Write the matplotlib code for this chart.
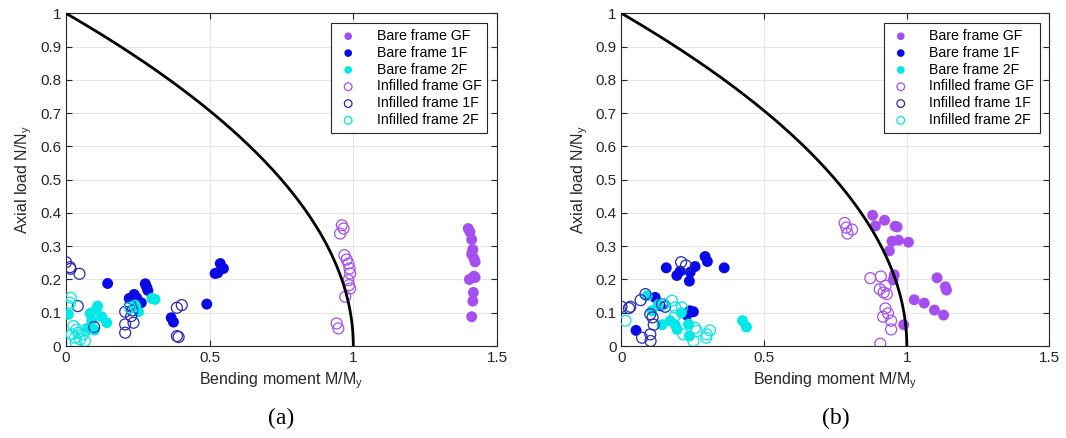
import matplotlib
matplotlib.use("Agg")
import matplotlib.pyplot as plt
import numpy as np

plt.rcParams['font.family'] = ['Liberation Sans', 'DejaVu Sans']

# ---- panel (a) data: (M/My, N/Ny) ----
a_bare_gf_m = [1.40, 1.406, 1.412, 1.416, 1.412, 1.42, 1.424, 1.42, 1.404, 1.424, 1.418, 1.416, 1.412]
a_bare_gf_n = [0.353, 0.343, 0.32, 0.29, 0.276, 0.263, 0.253, 0.21, 0.20, 0.206, 0.161, 0.135, 0.088]
a_bare_1f_m = [0.145, 0.22, 0.237, 0.246, 0.262, 0.276, 0.281, 0.285, 0.366, 0.374, 0.49, 0.519, 0.537, 0.548, 0.528]
a_bare_1f_n = [0.188, 0.143, 0.155, 0.145, 0.13, 0.187, 0.177, 0.167, 0.085, 0.072, 0.126, 0.218, 0.248, 0.233, 0.22]
a_bare_2f_m = [0.008, 0.11, 0.084, 0.124, 0.142, 0.09, 0.099, 0.078, 0.252, 0.299, 0.31, 0.24, 0.105]
a_bare_2f_n = [0.095, 0.12, 0.098, 0.088, 0.07, 0.078, 0.048, 0.053, 0.103, 0.143, 0.14, 0.123, 0.11]
a_inf_gf_m = [0.96, 0.966, 0.954, 0.969, 0.977, 0.983, 0.987, 0.989, 0.983, 0.985, 0.989, 0.972, 0.942, 0.948]
a_inf_gf_n = [0.363, 0.353, 0.338, 0.273, 0.26, 0.248, 0.233, 0.218, 0.198, 0.183, 0.173, 0.148, 0.068, 0.053]
a_inf_1f_m = [0.0, 0.014, 0.016, 0.047, 0.041, 0.098, 0.206, 0.224, 0.227, 0.235, 0.206, 0.206, 0.231, 0.386, 0.403, 0.386, 0.392]
a_inf_1f_n = [0.252, 0.237, 0.232, 0.217, 0.12, 0.057, 0.103, 0.123, 0.09, 0.07, 0.065, 0.04, 0.107, 0.115, 0.123, 0.03, 0.027]
a_inf_2f_m = [0.017, 0.014, 0.008, 0.026, 0.037, 0.02, 0.031, 0.049, 0.066, 0.06, 0.043, 0.072, 0.034, 0.223, 0.24]
a_inf_2f_n = [0.145, 0.13, 0.12, 0.06, 0.05, 0.035, 0.025, 0.02, 0.015, 0.035, 0.04, 0.05, 0.01, 0.115, 0.12]

# ---- panel (b) data ----
b_bare_gf_m = [0.88, 0.922, 0.89, 0.959, 0.966, 0.948, 0.971, 1.006, 0.939, 0.956, 0.952, 0.989,
               1.026, 1.061, 1.097, 1.129, 1.106, 1.135, 1.139]
b_bare_gf_n = [0.393, 0.378, 0.361, 0.36, 0.358, 0.315, 0.318, 0.312, 0.286, 0.214, 0.199, 0.064,
               0.139, 0.129, 0.108, 0.093, 0.205, 0.178, 0.168]
b_bare_1f_m = [0.157, 0.206, 0.194, 0.241, 0.258, 0.238, 0.293, 0.301, 0.36, 0.051, 0.118, 0.136,
               0.24, 0.252, 0.229]
b_bare_1f_n = [0.235, 0.225, 0.212, 0.222, 0.239, 0.195, 0.269, 0.254, 0.235, 0.047, 0.146, 0.121,
               0.106, 0.103, 0.093]
b_bare_2f_m = [0.09, 0.107, 0.142, 0.171, 0.188, 0.195, 0.235, 0.238, 0.424, 0.438, 0.13, 0.21]
b_bare_2f_n = [0.151, 0.106, 0.064, 0.076, 0.064, 0.05, 0.066, 0.03, 0.076, 0.057, 0.125, 0.1]
b_inf_gf_m = [0.782, 0.788, 0.808, 0.792, 0.872, 0.909, 0.925, 0.905, 0.919, 0.93, 0.925, 0.917,
              0.934, 0.945, 0.945, 0.907]
b_inf_gf_n = [0.37, 0.356, 0.35, 0.338, 0.204, 0.209, 0.181, 0.171, 0.161, 0.156, 0.113, 0.088,
              0.098, 0.076, 0.05, 0.007]
b_inf_1f_m = [0.0, 0.026, 0.031, 0.084, 0.067, 0.101, 0.109, 0.113, 0.101, 0.102, 0.072, 0.209,
              0.226, 0.142, 0.153]
b_inf_1f_n = [0.118, 0.114, 0.118, 0.156, 0.138, 0.096, 0.086, 0.064, 0.035, 0.015, 0.025, 0.252,
              0.242, 0.126, 0.118]
b_inf_2f_m = [0.014, 0.177, 0.188, 0.212, 0.188, 0.217, 0.252, 0.258, 0.264, 0.299, 0.31, 0.297, 0.148]
b_inf_2f_n = [0.076, 0.136, 0.116, 0.116, 0.091, 0.035, 0.015, 0.055, 0.045, 0.035, 0.047, 0.025, 0.126]

labels = ["Bare frame GF", "Bare frame 1F", "Bare frame 2F",
          "Infilled frame GF", "Infilled frame 1F", "Infilled frame 2F"]
c_gf = "#a64ff0"
c_1f = "#0a0ae6"
c_1f_inf = "#2b2bb0"
c_2f = "#00e8e8"

# interaction curve M/My + (N/Ny)^2 = 1
n_curve = np.linspace(0, 1, 200)
m_curve = 1 - n_curve**2

fig = plt.figure(figsize=(10.66, 4.38), dpi=100)
ax_a = fig.add_axes([0.0619, 0.21, 0.4043, 0.7596])
ax_b = fig.add_axes([0.583, 0.21, 0.4015, 0.7596])

panels = [
    (ax_a, "(a)", a_bare_gf_m, a_bare_gf_n, a_bare_1f_m, a_bare_1f_n, a_bare_2f_m, a_bare_2f_n,
     a_inf_gf_m, a_inf_gf_n, a_inf_1f_m, a_inf_1f_n, a_inf_2f_m, a_inf_2f_n),
    (ax_b, "(b)", b_bare_gf_m, b_bare_gf_n, b_bare_1f_m, b_bare_1f_n, b_bare_2f_m, b_bare_2f_n,
     b_inf_gf_m, b_inf_gf_n, b_inf_1f_m, b_inf_1f_n, b_inf_2f_m, b_inf_2f_n),
]

ms = 62
for (ax, tag, bgm, bgn, b1m, b1n, b2m, b2n, igm, ign, i1m, i1n, i2m, i2n) in panels:
    h1 = ax.scatter(bgm, bgn, s=ms, c=c_gf, edgecolors='none', zorder=3)
    h2 = ax.scatter(b1m, b1n, s=ms, c=c_1f, edgecolors='none', zorder=3)
    h3 = ax.scatter(b2m, b2n, s=ms, c=c_2f, edgecolors='none', zorder=3)
    h4 = ax.scatter(igm, ign, s=ms, facecolors='none', edgecolors=c_gf, linewidths=0.9, zorder=3)
    h5 = ax.scatter(i1m, i1n, s=ms, facecolors='none', edgecolors=c_1f_inf, linewidths=0.9, zorder=3)
    h6 = ax.scatter(i2m, i2n, s=ms, facecolors='none', edgecolors=c_2f, linewidths=0.9, zorder=3)
    ax.plot(m_curve, n_curve, color='black', lw=2, zorder=4)

    ax.set_xlim(0, 1.5)
    ax.set_ylim(0, 1)
    ax.set_xticks([0, 0.5, 1, 1.5])
    ax.set_xticklabels(["0", "0.5", "1", "1.5"])
    ax.set_yticks(np.arange(0, 1.01, 0.1))
    ax.set_yticklabels(["0", "0.1", "0.2", "0.3", "0.4", "0.5", "0.6", "0.7", "0.8", "0.9", "1"])
    ax.grid(True, color='#e6e6e6', lw=0.8)
    ax.set_axisbelow(True)
    ax.tick_params(direction='in', top=True, right=True, labelsize=11, colors='#262626', length=4)
    for sp in ax.spines.values():
        sp.set_color('#262626')
        sp.set_linewidth(0.8)
    ax.set_xlabel("Bending moment M/M$_\\mathregular{y}$", fontsize=11.5, color='#262626')
    ax.set_ylabel("Axial load N/N$_\\mathregular{y}$", fontsize=11.5, color='#262626')

    leg = ax.legend([h1, h2, h3, h4, h5, h6], labels, loc='upper right',
                    bbox_to_anchor=(0.977, 0.97), borderaxespad=0, fontsize=10.2,
                    fancybox=False, framealpha=1, edgecolor='#262626', handletextpad=1.2,
                    handlelength=1.6, labelspacing=0.2, borderpad=0.4, markerscale=0.7)
    leg.get_frame().set_linewidth(0.8)

    ax.text(0.5, -0.185, tag, transform=ax.transAxes, ha='center', va='top',
            fontsize=17, family=['Liberation Serif', 'DejaVu Serif'])

fig.savefig("out.png", dpi=100)
